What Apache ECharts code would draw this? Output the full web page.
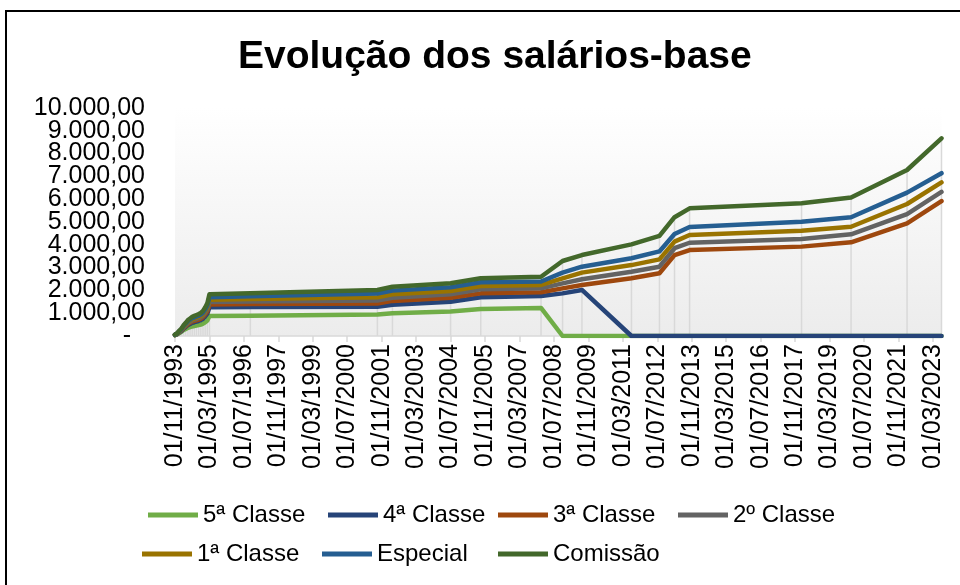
<!DOCTYPE html>
<html>
<head>
<meta charset="utf-8">
<script src="https://cdn.jsdelivr.net/npm/echarts@6/dist/echarts.min.js"></script>
<style>
  html, body { margin: 0; padding: 0; background: #fff; }
  #chart { width: 960px; height: 585px; }
</style>
</head>
<body>
<div id="chart"></div>
<script>
// data dates (YYYY-MM), monthly at the start, then the adjustment dates
const dates = [
  '1993-11', '1993-12', '1994-01', '1994-02', '1994-03', '1994-04', '1994-05', '1994-06',
  '1994-07', '1994-08', '1994-09', '1994-10', '1994-11', '1994-12', '1995-01', '1995-02',
  '1995-03', '1996-10', '2001-09', '2002-04', '2004-07', '2005-09', '2008-01', '2008-11',
  '2009-08', '2011-07', '2012-08', '2013-03', '2013-10', '2018-02', '2020-01', '2022-03',
  '2023-07'
];

const classe5 = [35, 70, 130, 185, 260, 310, 360, 390, 420, 440, 460, 480, 500, 540, 600, 680,
  880, 890, 940, 1000, 1070, 1180, 1230, 0, 0, 0, 0, 0, 0, 0, 0, 0, 0];
const classe4 = [41, 83, 158, 227, 325, 400, 480, 530, 580, 605, 635, 660, 695, 755, 860, 980,
  1260, 1270, 1280, 1370, 1500, 1700, 1750, 1870, 2020, 0, 0, 0, 0, 0, 0, 0, 0];
const classe3 = [45, 90, 173, 248, 355, 435, 525, 580, 630, 660, 690, 720, 760, 825, 940, 1075,
  1380, 1400, 1420, 1540, 1680, 1870, 1920, 2090, 2240, 2530, 2750, 3550, 3770, 3920, 4110, 4940, 5920];
const classe2 = [49, 97, 187, 268, 385, 470, 570, 625, 680, 715, 745, 780, 820, 890, 1015, 1160,
  1490, 1510, 1560, 1680, 1830, 2050, 2090, 2310, 2490, 2820, 3040, 3850, 4090, 4250, 4460, 5350, 6320];
const classe1 = [52, 105, 200, 285, 410, 505, 610, 670, 730, 765, 800, 835, 880, 955, 1090, 1240,
  1590, 1620, 1700, 1830, 1970, 2190, 2240, 2530, 2780, 3110, 3360, 4140, 4430, 4620, 4790, 5790, 6740];
const especial = [55, 110, 215, 305, 440, 540, 650, 715, 780, 820, 855, 895, 940, 1020, 1160, 1330,
  1700, 1740, 1860, 1990, 2140, 2360, 2390, 2780, 3040, 3410, 3710, 4470, 4780, 5010, 5210, 6290, 7140];
const comissao = [60, 120, 230, 330, 470, 580, 700, 770, 840, 880, 920, 960, 1010, 1100, 1250, 1430,
  1830, 1880, 2020, 2160, 2310, 2530, 2600, 3290, 3550, 4020, 4390, 5210, 5600, 5820, 6070, 7280, 8670];

const seriesNames = ['5ª Classe', '4ª Classe', '3ª Classe', '2º Classe', '1ª Classe', 'Especial', 'Comissão'];
const seriesValues = [classe5, classe4, classe3, classe2, classe1, especial, comissao];
const seriesColors = ['#70ad47', '#264478', '#9e480e', '#636363', '#997300', '#255e91', '#43682b'];

// axis ticks every 16 months from 01/11/1993
const xTickLabels = [
  '01/11/1993', '01/03/1995', '01/07/1996', '01/11/1997', '01/03/1999', '01/07/2000',
  '01/11/2001', '01/03/2003', '01/07/2004', '01/11/2005', '01/03/2007', '01/07/2008',
  '01/11/2009', '01/03/2011', '01/07/2012', '01/11/2013', '01/03/2015', '01/07/2016',
  '01/11/2017', '01/03/2019', '01/07/2020', '01/11/2021', '01/03/2023'
];

const FONT = '"Liberation Sans", Arial, sans-serif';

// legend laid out in two rows like the Excel legend
const legendSpots = [
  [143, 498], [323, 498], [493, 498], [673, 498],
  [137, 537], [317, 537], [493, 537],
];

// months since 1993-11
const monthIndex = s => {
  const [y, m] = s.split('-').map(Number);
  return (y - 1993) * 12 + (m - 11);
};
const xs = dates.map(monthIndex);
const pairs = vals => xs.map((x, i) => [x, vals[i]]);

const fmtY = v => {
  if (v === 0) return '-  ';
  const s = String(Math.round(v)).replace(/\B(?=(\d{3})+(?!\d))/g, '.');
  return s + ',00';
};

const chart = echarts.init(document.getElementById('chart'));

const lineSeries = seriesNames.map((name, i) => ({
  name,
  type: 'line',
  data: pairs(seriesValues[i]),
  showSymbol: false,
  symbol: 'none',
  z: 3,
  color: seriesColors[i],
  lineStyle: { width: 4.5, color: seriesColors[i], cap: 'round', join: 'round' },
}));

const legends = seriesNames.map((name, i) => ({
  data: [name],
  left: legendSpots[i][0],
  top: legendSpots[i][1],
  icon: 'rect',
  itemWidth: 50,
  itemHeight: 5,
  textStyle: { fontFamily: FONT, fontSize: 24, color: '#000' },
}));

// labels are packed tightly, so even and odd thousands go on two
// overlaid axes to keep echarts from dropping the ones next to min/max
const yAxisFor = odd => ({
  type: 'value',
  position: 'left',
  min: 0,
  max: 10000,
  interval: 1000,
  axisLine: { show: false },
  axisTick: { show: false },
  splitLine: { show: false },
  axisLabel: {
    margin: 30,
    showMaxLabel: true,
    showMinLabel: true,
    fontFamily: FONT,
    fontSize: 25,
    color: '#000',
    formatter: v => ((v / 1000) % 2 === (odd ? 1 : 0) ? fmtY(v) : ''),
  },
});

chart.setOption({
  animation: false,
  title: {
    text: 'Evolução dos salários-base',
    left: 233,
    top: 33,
    textStyle: { fontFamily: FONT, fontSize: 39, fontWeight: 'bold', color: '#000' },
  },
  graphic: [{
    type: 'rect',
    shape: { x: 6, y: 11, width: 1000, height: 1000 },
    style: { fill: 'none', stroke: '#000', lineWidth: 2 },
    silent: true,
  }],
  grid: {
    left: 175,
    right: 18.5,
    top: 108,
    bottom: 249,
    show: true,
    borderWidth: 0,
    backgroundColor: new echarts.graphic.LinearGradient(0, 0, 0, 1, [
      { offset: 0, color: '#ffffff' },
      { offset: 1, color: '#ececec' },
    ]),
  },
  legend: legends,
  xAxis: {
    type: 'value',
    min: 0,
    max: 356,
    interval: 16,
    axisLine: { lineStyle: { color: '#d9d9d9', width: 1.5 } },
    axisTick: { show: true, length: 6, lineStyle: { color: '#d9d9d9', width: 1.5 } },
    splitLine: { show: false },
    axisLabel: {
      rotate: 90,
      margin: 8,
      showMaxLabel: false,
      fontFamily: FONT,
      fontSize: 25,
      color: '#000',
      formatter: v => (v % 16 === 0 ? xTickLabels[v / 16] || '' : ''),
    },
  },
  yAxis: [yAxisFor(false), yAxisFor(true)],
  series: [
    {
      // drop lines from the top series down to the axis
      name: 'drop',
      type: 'custom',
      silent: true,
      z: 1,
      data: pairs(comissao),
      renderItem: (params, api) => {
        const top = api.coord([api.value(0), api.value(1)]);
        const bot = api.coord([api.value(0), 0]);
        return {
          type: 'line',
          shape: { x1: top[0], y1: top[1], x2: bot[0], y2: bot[1] },
          style: { stroke: '#d9d9d9', lineWidth: 1.5 },
        };
      },
    },
    ...lineSeries,
  ],
});
</script>
</body>
</html>
